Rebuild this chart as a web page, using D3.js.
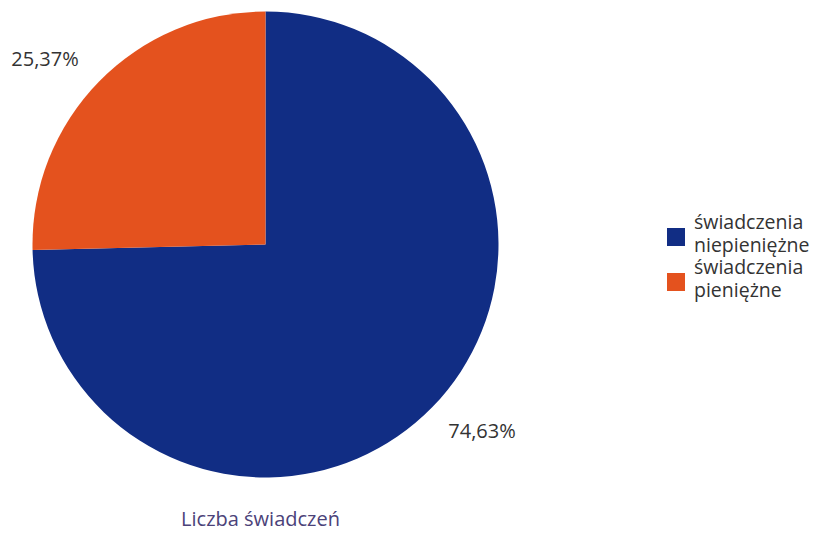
<!DOCTYPE html>
<html>
<head>
<meta charset="utf-8">
<script src="https://cdn.jsdelivr.net/npm/d3@7"></script>
<style>
  body { margin: 0; background: #fff; }
  text { font-family: "Open Sans", "Noto Sans", sans-serif; }
</style>
</head>
<body>
<div id="chart"></div>
<script>
var w = 817;
var h = 533;

var categories = ["świadczenia niepieniężne", "świadczenia pieniężne"];
var legendLines = [["świadczenia", "niepieniężne"], ["świadczenia", "pieniężne"]];
var values = [74.63, 25.37];
var labels = ["74,63%", "25,37%"];
var colors = ["#112d84", "#e4521e"];
var title = "Liczba świadczeń";

var cx = 265.5, cy = 244.5, radius = 233;

var svg = d3.select("#chart").append("svg")
            .attr("width", w)
            .attr("height", h);

var pie = d3.pie().sort(null).value(function(d) { return d; });
var arcs = pie(values);
var arc = d3.arc().innerRadius(0).outerRadius(radius);

var g = svg.append("g").attr("transform", "translate(" + cx + "," + cy + ")");

g.selectAll("path")
  .data(arcs)
  .enter()
  .append("path")
  .attr("d", arc)
  .style("fill", function(d, i) { return colors[i]; });

// percent labels sit outside the pie, near the slice ends
var labelPos = [[482, 438], [45, 66]];
g.selectAll(".lbl")
  .data(arcs)
  .enter()
  .append("text")
  .attr("class", "lbl")
  .attr("x", function(d, i) { return labelPos[i][0] - cx; })
  .attr("y", function(d, i) { return labelPos[i][1] - cy; })
  .attr("text-anchor", "middle")
  .style("font-size", "20px")
  .style("fill", "#333")
  .text(function(d, i) { return labels[i]; });

svg.append("text")
  .attr("x", 260.5)
  .attr("y", 526)
  .attr("text-anchor", "middle")
  .style("font-size", "20px")
  .style("fill", "#4b4279")
  .text(title);

var legend = svg.selectAll(".leg")
  .data(categories)
  .enter()
  .append("g")
  .attr("class", "leg")
  .attr("transform", function(d, i) { return "translate(667," + (228 + i * 45) + ")"; });

legend.append("rect")
  .attr("width", 18)
  .attr("height", 18)
  .style("fill", function(d, i) { return colors[i]; });

legend.each(function(d, i) {
  var t = d3.select(this).append("text")
    .attr("x", 27)
    .attr("y", 1)
    .style("font-size", "19.5px")
    .style("fill", "#333");
  legendLines[i].forEach(function(line, j) {
    t.append("tspan").attr("x", 27).attr("dy", j === 0 ? 0 : 23).text(line);
  });
});
</script>
</body>
</html>
